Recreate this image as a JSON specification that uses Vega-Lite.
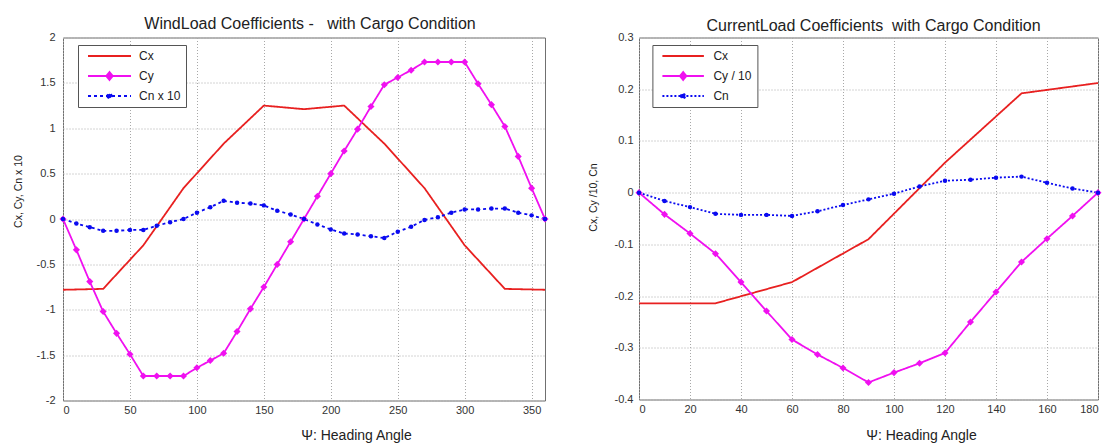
{
  "$schema": "https://vega.github.io/schema/vega-lite/v6.json",
  "padding": {"left": 12, "top": 14.5, "right": 0, "bottom": 0},
  "background": "white",
  "config": {
    "font": "Liberation Sans",
    "view": {"stroke": "#707070", "strokeWidth": 1},
    "axis": {
      "grid": true, "gridColor": "#a8a8a8", "gridDash": [1, 2], "gridWidth": 1,
      "domain": false, "ticks": false,
      "labelFont": "Liberation Sans", "labelFontSize": 11, "labelColor": "#333",
      "titleFont": "Liberation Sans", "titleFontWeight": "normal", "titleColor": "#222"
    },
    "axisX": {"labelPadding": 4, "titleFontSize": 14, "titleBaseline": "middle", "titleY": 35},
    "axisY": {"labelPadding": 8, "titleFontSize": 10.5, "titleBaseline": "middle"},
    "title": {"fontSize": 16, "fontWeight": "normal", "color": "#222", "font": "Liberation Sans"},
    "legend": {
      "orient": "none", "title": null, "padding": 5, "strokeColor": "#555", "fillColor": "white",
      "symbolSize": 100, "labelOffset": 44, "labelFontSize": 12, "labelColor": "#222", "rowPadding": 6,
      "symbolStrokeWidth": 1.8, "symbolOpacity": 1, "labelFont": "Liberation Sans"
    },
    "concat": {"spacing": 37}
  },
  "datasets": {
    "wind": [
      {"a": 0, "v": -0.78, "s": "Cx"}, {"a": 30, "v": -0.77, "s": "Cx"}, {"a": 60, "v": -0.29, "s": "Cx"},
      {"a": 90, "v": 0.34, "s": "Cx"}, {"a": 120, "v": 0.83, "s": "Cx"}, {"a": 150, "v": 1.25, "s": "Cx"},
      {"a": 180, "v": 1.21, "s": "Cx"}, {"a": 210, "v": 1.25, "s": "Cx"}, {"a": 240, "v": 0.83, "s": "Cx"},
      {"a": 270, "v": 0.34, "s": "Cx"}, {"a": 300, "v": -0.29, "s": "Cx"}, {"a": 330, "v": -0.77, "s": "Cx"},
      {"a": 360, "v": -0.78, "s": "Cx"},
      {"a": 0, "v": 0, "s": "Cy"}, {"a": 10, "v": -0.34, "s": "Cy"}, {"a": 20, "v": -0.69, "s": "Cy"},
      {"a": 30, "v": -1.02, "s": "Cy"}, {"a": 40, "v": -1.26, "s": "Cy"}, {"a": 50, "v": -1.49, "s": "Cy"},
      {"a": 60, "v": -1.73, "s": "Cy"}, {"a": 70, "v": -1.73, "s": "Cy"}, {"a": 80, "v": -1.73, "s": "Cy"},
      {"a": 90, "v": -1.73, "s": "Cy"}, {"a": 100, "v": -1.64, "s": "Cy"}, {"a": 110, "v": -1.56, "s": "Cy"},
      {"a": 120, "v": -1.48, "s": "Cy"}, {"a": 130, "v": -1.24, "s": "Cy"}, {"a": 140, "v": -0.99, "s": "Cy"},
      {"a": 150, "v": -0.75, "s": "Cy"}, {"a": 160, "v": -0.5, "s": "Cy"}, {"a": 170, "v": -0.25, "s": "Cy"},
      {"a": 180, "v": 0, "s": "Cy"}, {"a": 190, "v": 0.25, "s": "Cy"}, {"a": 200, "v": 0.5, "s": "Cy"},
      {"a": 210, "v": 0.75, "s": "Cy"}, {"a": 220, "v": 0.99, "s": "Cy"}, {"a": 230, "v": 1.24, "s": "Cy"},
      {"a": 240, "v": 1.48, "s": "Cy"}, {"a": 250, "v": 1.56, "s": "Cy"}, {"a": 260, "v": 1.64, "s": "Cy"},
      {"a": 270, "v": 1.73, "s": "Cy"}, {"a": 280, "v": 1.73, "s": "Cy"}, {"a": 290, "v": 1.73, "s": "Cy"},
      {"a": 300, "v": 1.73, "s": "Cy"}, {"a": 310, "v": 1.49, "s": "Cy"}, {"a": 320, "v": 1.26, "s": "Cy"},
      {"a": 330, "v": 1.02, "s": "Cy"}, {"a": 340, "v": 0.69, "s": "Cy"}, {"a": 350, "v": 0.34, "s": "Cy"},
      {"a": 360, "v": 0, "s": "Cy"},
      {"a": 0, "v": 0, "s": "Cn x 10"}, {"a": 10, "v": -0.05, "s": "Cn x 10"}, {"a": 20, "v": -0.09, "s": "Cn x 10"},
      {"a": 30, "v": -0.13, "s": "Cn x 10"}, {"a": 40, "v": -0.13, "s": "Cn x 10"}, {"a": 50, "v": -0.12, "s": "Cn x 10"},
      {"a": 60, "v": -0.12, "s": "Cn x 10"}, {"a": 70, "v": -0.075, "s": "Cn x 10"}, {"a": 80, "v": -0.035, "s": "Cn x 10"},
      {"a": 90, "v": 0, "s": "Cn x 10"}, {"a": 100, "v": 0.07, "s": "Cn x 10"}, {"a": 110, "v": 0.13, "s": "Cn x 10"},
      {"a": 120, "v": 0.2, "s": "Cn x 10"}, {"a": 130, "v": 0.18, "s": "Cn x 10"}, {"a": 140, "v": 0.17, "s": "Cn x 10"},
      {"a": 150, "v": 0.15, "s": "Cn x 10"}, {"a": 160, "v": 0.09, "s": "Cn x 10"}, {"a": 170, "v": 0.05, "s": "Cn x 10"},
      {"a": 180, "v": 0, "s": "Cn x 10"}, {"a": 190, "v": -0.06, "s": "Cn x 10"}, {"a": 200, "v": -0.115, "s": "Cn x 10"},
      {"a": 210, "v": -0.16, "s": "Cn x 10"}, {"a": 220, "v": -0.17, "s": "Cn x 10"}, {"a": 230, "v": -0.19, "s": "Cn x 10"},
      {"a": 240, "v": -0.21, "s": "Cn x 10"}, {"a": 250, "v": -0.14, "s": "Cn x 10"}, {"a": 260, "v": -0.085, "s": "Cn x 10"},
      {"a": 270, "v": -0.01, "s": "Cn x 10"}, {"a": 280, "v": 0.02, "s": "Cn x 10"}, {"a": 290, "v": 0.07, "s": "Cn x 10"},
      {"a": 300, "v": 0.105, "s": "Cn x 10"}, {"a": 310, "v": 0.105, "s": "Cn x 10"}, {"a": 320, "v": 0.115, "s": "Cn x 10"},
      {"a": 330, "v": 0.115, "s": "Cn x 10"}, {"a": 340, "v": 0.07, "s": "Cn x 10"}, {"a": 350, "v": 0.04, "s": "Cn x 10"},
      {"a": 360, "v": 0, "s": "Cn x 10"}
    ],
    "current": [
      {"a": 0, "v": -0.214, "s": "Cx"}, {"a": 30, "v": -0.214, "s": "Cx"}, {"a": 60, "v": -0.173, "s": "Cx"},
      {"a": 90, "v": -0.09, "s": "Cx"}, {"a": 120, "v": 0.058, "s": "Cx"}, {"a": 150, "v": 0.192, "s": "Cx"},
      {"a": 180, "v": 0.212, "s": "Cx"},
      {"a": 0, "v": 0, "s": "Cy / 10"}, {"a": 10, "v": -0.042, "s": "Cy / 10"}, {"a": 20, "v": -0.079, "s": "Cy / 10"},
      {"a": 30, "v": -0.118, "s": "Cy / 10"}, {"a": 40, "v": -0.173, "s": "Cy / 10"}, {"a": 50, "v": -0.229, "s": "Cy / 10"},
      {"a": 60, "v": -0.284, "s": "Cy / 10"}, {"a": 70, "v": -0.313, "s": "Cy / 10"}, {"a": 80, "v": -0.339, "s": "Cy / 10"},
      {"a": 90, "v": -0.367, "s": "Cy / 10"}, {"a": 100, "v": -0.348, "s": "Cy / 10"}, {"a": 110, "v": -0.33, "s": "Cy / 10"},
      {"a": 120, "v": -0.31, "s": "Cy / 10"}, {"a": 130, "v": -0.25, "s": "Cy / 10"}, {"a": 140, "v": -0.192, "s": "Cy / 10"},
      {"a": 150, "v": -0.134, "s": "Cy / 10"}, {"a": 160, "v": -0.089, "s": "Cy / 10"}, {"a": 170, "v": -0.045, "s": "Cy / 10"},
      {"a": 180, "v": 0, "s": "Cy / 10"},
      {"a": 0, "v": 0, "s": "Cn"}, {"a": 10, "v": -0.016, "s": "Cn"}, {"a": 20, "v": -0.028, "s": "Cn"},
      {"a": 30, "v": -0.041, "s": "Cn"}, {"a": 40, "v": -0.043, "s": "Cn"}, {"a": 50, "v": -0.043, "s": "Cn"},
      {"a": 60, "v": -0.045, "s": "Cn"}, {"a": 70, "v": -0.036, "s": "Cn"}, {"a": 80, "v": -0.024, "s": "Cn"},
      {"a": 90, "v": -0.013, "s": "Cn"}, {"a": 100, "v": -0.002, "s": "Cn"}, {"a": 110, "v": 0.012, "s": "Cn"},
      {"a": 120, "v": 0.023, "s": "Cn"}, {"a": 130, "v": 0.025, "s": "Cn"}, {"a": 140, "v": 0.029, "s": "Cn"},
      {"a": 150, "v": 0.031, "s": "Cn"}, {"a": 160, "v": 0.019, "s": "Cn"}, {"a": 170, "v": 0.008, "s": "Cn"},
      {"a": 180, "v": 0, "s": "Cn"}
    ]
  },
  "hconcat": [
    {
      "width": 482, "height": 363,
      "title": {"text": "WindLoad Coefficients -\u00a0\u00a0 with Cargo Condition", "offset": 0, "dx": 6},
      "data": {"name": "wind"},
      "encoding": {
        "x": {"field": "a", "type": "quantitative", "scale": {"domain": [0, 360], "nice": false, "zero": false},
              "axis": {"values": [0, 50, 100, 150, 200, 250, 300, 350], "title": "Ψ: Heading Angle", "titleX": 293}},
        "y": {"field": "v", "type": "quantitative", "scale": {"domain": [-2, 2], "nice": false},
              "axis": {"values": [-2, -1.5, -1, -0.5, 0, 0.5, 1, 1.5, 2], "title": "Cx, Cy, Cn x 10", "titleX": -45, "titleY": 153.5, "labelExpr": "toString(datum.value)"}},
        "color": {"field": "s", "type": "nominal",
                  "scale": {"domain": ["Cx", "Cy", "Cn x 10"], "range": ["#e82020", "#f010f0", "#0a0af0"]},
                  "legend": {"legendX": 15, "legendY": 7.5, "labelExpr": "datum.label + '\u00a0\u00a0\u00a0'",
                    "encode": {"symbols": {"update": {
                      "shape": {"signal": "datum.value === 'Cx' ? 'M-0.2,0H8.4' : (datum.value === 'Cy' ? 'M-0.2,0H8.4M4.1,-0.8L4.75,0L4.1,0.8L3.45,0Z' : 'M-0.2,0H8.4M3.65,0A0.45,0.45 0 1,0 4.55,0A0.45,0.45 0 1,0 3.65,0Z')"},
                      "strokeDash": {"signal": "datum.value === 'Cn x 10' ? [3, 3] : [1, 0]"},
                      "stroke": {"signal": "datum.value === 'Cx' ? '#e82020' : (datum.value === 'Cy' ? '#f010f0' : '#0a0af0')"},
                      "fill": {"signal": "datum.value === 'Cx' ? '#e82020' : (datum.value === 'Cy' ? '#f010f0' : '#0a0af0')"},
                      "opacity": {"value": 1}
                    }}}}}
      },
      "layer": [
        {"mark": {"type": "line", "strokeWidth": 1.8},
         "encoding": {"strokeDash": {"field": "s", "type": "nominal", "scale": {"domain": ["Cx", "Cy", "Cn x 10"], "range": [[1, 0], [1, 0], [3, 3]]}, "legend": null}}},
        {"transform": [{"filter": "datum.s === 'Cy'"}], "mark": {"type": "point", "filled": true, "opacity": 1, "shape": "diamond", "size": 50}},
        {"transform": [{"filter": "datum.s === 'Cn x 10'"}], "mark": {"type": "point", "filled": true, "opacity": 1, "shape": "circle", "size": 20}}
      ]
    },
    {
      "width": 459, "height": 362,
      "title": {"text": "CurrentLoad Coefficients\u00a0 with Cargo Condition", "offset": 0, "dy": 2, "dx": 5},
      "data": {"name": "current"},
      "encoding": {
        "x": {"field": "a", "type": "quantitative", "scale": {"domain": [0, 180], "nice": false, "zero": false},
              "axis": {"values": [0, 20, 40, 60, 80, 100, 120, 140, 160, 180], "title": "Ψ: Heading Angle", "titleX": 282, "titleY": 36}},
        "y": {"field": "v", "type": "quantitative", "scale": {"domain": [-0.4, 0.3], "nice": false},
              "axis": {"values": [-0.4, -0.3, -0.2, -0.1, 0, 0.1, 0.2, 0.3], "title": "Cx, Cy /10, Cn", "titleX": -46, "titleY": 159.5, "labelPadding": 6, "labelExpr": "toString(datum.value)"}},
        "color": {"field": "s", "type": "nominal",
                  "scale": {"domain": ["Cx", "Cy / 10", "Cn"], "range": ["#e82020", "#f010f0", "#0a0af0"]},
                  "legend": {"legendX": 13.4, "legendY": 7.5, "labelExpr": "datum.label + '\u00a0\u00a0\u00a0'",
                    "encode": {"symbols": {"update": {
                      "shape": {"signal": "datum.value === 'Cx' ? 'M-0.2,0H8.1' : (datum.value === 'Cy / 10' ? 'M-0.2,0H8.1M3.95,-0.8L4.6,0L3.95,0.8L3.3,0Z' : 'M-0.2,0H8.1M3.5,0A0.45,0.45 0 1,0 4.4,0A0.45,0.45 0 1,0 3.5,0Z')"},
                      "strokeDash": {"signal": "datum.value === 'Cn' ? [2, 2] : [1, 0]"},
                      "stroke": {"signal": "datum.value === 'Cx' ? '#e82020' : (datum.value === 'Cy / 10' ? '#f010f0' : '#0a0af0')"},
                      "fill": {"signal": "datum.value === 'Cx' ? '#e82020' : (datum.value === 'Cy / 10' ? '#f010f0' : '#0a0af0')"},
                      "opacity": {"value": 1}
                    }}}}}
      },
      "layer": [
        {"mark": {"type": "line", "strokeWidth": 1.8},
         "encoding": {"strokeDash": {"field": "s", "type": "nominal", "scale": {"domain": ["Cx", "Cy / 10", "Cn"], "range": [[1, 0], [1, 0], [2, 2]]}, "legend": null}}},
        {"transform": [{"filter": "datum.s === 'Cy / 10'"}], "mark": {"type": "point", "filled": true, "opacity": 1, "shape": "diamond", "size": 50}},
        {"transform": [{"filter": "datum.s === 'Cn'"}], "mark": {"type": "point", "filled": true, "opacity": 1, "shape": "circle", "size": 20}}
      ]
    }
  ],
  "resolve": {"scale": {"color": "independent", "strokeDash": "independent"}, "legend": {"color": "independent"}}
}
